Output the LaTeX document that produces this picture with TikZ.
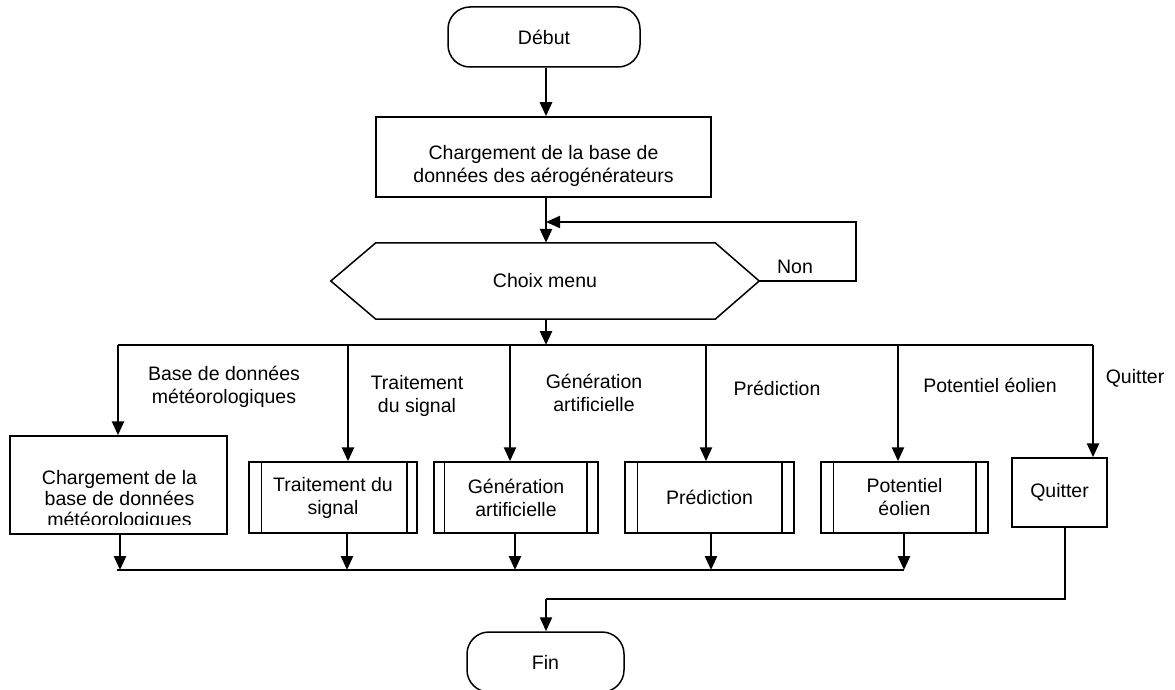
\documentclass[tikz,border=0pt]{standalone}
\usepackage{fontspec}
\setmainfont{Liberation Sans}
\usetikzlibrary{arrows.meta}
\newcommand\diagfont{\fontsize{19.5}{23}\selectfont}
\newcommand\diagfonttight{\fontsize{19.5}{21}\selectfont}
\tikzset{
  lbl/.style={font=\diagfont, align=center, inner sep=0pt},
  box/.style={draw, line width=1.5pt, inner sep=0pt, align=center, font=\diagfont},
  term/.style={box, rounded corners=22pt},
  arr/.style={line width=2.6pt, -{Triangle[length=14pt,width=12pt]}},
  ln/.style={line width=1.8pt},
  thinln/.style={line width=1.5pt},
  bar/.style={line width=1.5pt},
}
\begin{document}
\begin{tikzpicture}[x=1pt,y=-1pt]
\useasboundingbox[fill=white] (0,0) rectangle (1175,690);
\coordinate (ax) at (546,0);

% top part
\node[term, minimum width=192, minimum height=60] (debut) at (544,37) {Début};
\node[box, minimum width=335, minimum height=80] (box1) at (543.5,157) {};
\node[lbl] (box1t) at (543.5,166) {Chargement de la base de\\données des aérogénérateurs};
\node[lbl, minimum width=428, minimum height=76] (menu) at (545,281) {Choix menu};
\draw[line width=1.5pt] (menu.west) -- ([xshift=45]menu.north west) -- ([xshift=-44]menu.north east)
  -- (menu.east) -- ([xshift=-44]menu.south east) -- ([xshift=45]menu.south west) -- cycle;
\node[lbl] (non) at (795,267) {Non};

\draw[arr] (debut.south -| ax) -- (box1.north -| ax);
\draw[arr] (box1.south -| ax) -- (menu.north -| ax);
\coordinate (loopR) at (856,222);
\draw[line width=2pt, -{Triangle[length=14pt,width=12pt]}] (menu.east) -| (loopR) -- (loopR -| ax);

% bus
\coordinate (busL) at (118,345);
\coordinate (busR) at (1093,345);
\draw[arr] (menu.south -| ax) -- (busL -| ax);
\draw[ln] (busL) -- (busR);

% boxes
\node[box, minimum width=217, minimum height=98] (bA) at (118.5,485) {};
\begin{scope}
  \clip (bA.north west) rectangle ([yshift=10pt]bA.south east);
  \node[lbl, font=\diagfonttight] (bAt) at (119.5,500) {Chargement de la\\base de données\\météorologiques};
\end{scope}
\node[box, minimum width=168, minimum height=71] (bB) at (333,497.5) {Traitement du\\signal};
\node[box, minimum width=164, minimum height=71] (bC) at (516,497.5) {Génération\\artificielle};
\node[box, minimum width=169, minimum height=71] (bD) at (709.5,497.5) {Prédiction};
\node[box, minimum width=167, minimum height=71] (bE) at (904.5,497.5) {Potentiel\\éolien};
\node[box, minimum width=95, minimum height=69] (bF) at (1059.5,492.5) {Quitter};

\draw[bar] ([xshift=13pt]bB.north west) -- ([xshift=13pt]bB.south west);
\draw[bar] ([xshift=-11pt]bB.north east) -- ([xshift=-11pt]bB.south east);
\draw[bar] ([xshift=11pt]bC.north west) -- ([xshift=11pt]bC.south west);
\draw[bar] ([xshift=-12pt]bC.north east) -- ([xshift=-12pt]bC.south east);
\draw[bar] ([xshift=13pt]bD.north west) -- ([xshift=13pt]bD.south west);
\draw[bar] ([xshift=-13pt]bD.north east) -- ([xshift=-13pt]bD.south east);
\draw[bar] ([xshift=13pt]bE.north west) -- ([xshift=13pt]bE.south west);
\draw[bar] ([xshift=-13pt]bE.north east) -- ([xshift=-13pt]bE.south east);

% branch labels
\node[lbl] (lA) at (224,387) {Base de données\\météorologiques};
\node[lbl] (lB) at (417,396) {Traitement\\du signal};
\node[lbl] (lC) at (594,393) {Génération\\artificielle};
\node[lbl] (lD) at (777,388) {Prédiction};
\node[lbl] (lE) at (990,385) {Potentiel éolien};
\node[lbl] (lF) at (1135,378) {Quitter};

% branches
\coordinate (tA) at (118,345);
\coordinate (tB) at (348,345);
\coordinate (tC) at (510,345);
\coordinate (tD) at (706,345);
\coordinate (tE) at (898,345);
\coordinate (tF) at (1093,345);
\draw[arr] (tA) -- (tA |- bA.north);
\draw[arr] (tB) -- (tB |- bB.north);
\draw[arr] (tC) -- (tC |- bC.north);
\draw[arr] (tD) -- (tD |- bD.north);
\draw[arr] (tE) -- (tE |- bE.north);
\draw[arr] (tF) -- (tF |- bF.north);

% outputs
\coordinate (oA) at (120,570);
\coordinate (oB) at (347,570);
\coordinate (oC) at (515,570);
\coordinate (oD) at (711,570);
\coordinate (oE) at (904,570);
\draw[arr] (oA |- bA.south) -- (oA);
\draw[arr] (oB |- bB.south) -- (oB);
\draw[arr] (oC |- bC.south) -- (oC);
\draw[arr] (oD |- bD.south) -- (oD);
\draw[arr] (oE |- bE.south) -- (oE);
\draw[ln] (117,570) -- (oE);

% quitter to fin
\node[term, minimum width=157, minimum height=60] (fin) at (545.5,662) {Fin};
\coordinate (qo) at (1065,599);
\coordinate (fq) at (ax |- qo);
\draw[thinln] (qo |- bF.south) -- (qo) -- (fq);
\draw[line width=2.2pt, -{Triangle[length=14pt,width=12pt]}] (fq) -- (fq |- fin.north);
\end{tikzpicture}
\end{document}
